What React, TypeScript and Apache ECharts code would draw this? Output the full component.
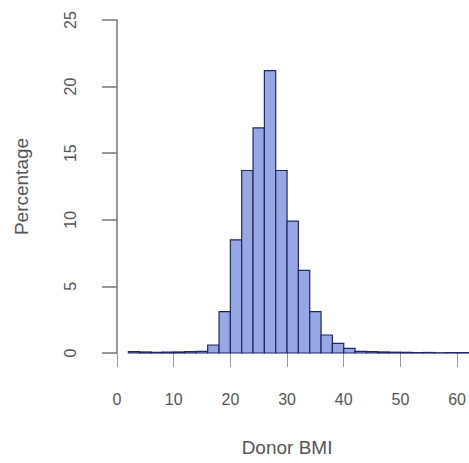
import React, { useEffect, useRef } from "react";
import * as echarts from "echarts";

const binStarts = [2, 4, 6, 8, 10, 12, 14, 16, 18, 20, 22, 24, 26, 28, 30, 32, 34, 36, 38, 40, 42, 44, 46, 48, 50, 52, 54, 56, 58, 60];
const binWidth = 2;
const percentages = [0.1, 0.08, 0.05, 0.07, 0.08, 0.1, 0.12, 0.6, 3.1, 8.5, 13.7, 16.9, 21.2, 13.7, 9.9, 6.2, 3.1, 1.35, 0.73, 0.35, 0.12, 0.1, 0.08, 0.06, 0.05, 0.03, 0.04, 0.02, 0.03, 0.03];
const xTicks = [0, 10, 20, 30, 40, 50, 60];
const yTicks = [0, 5, 10, 15, 20, 25];

export default function App() {
  const ref = useRef<HTMLDivElement>(null);
  useEffect(() => {
    if (!ref.current) return;
    const chart = echarts.init(ref.current, null, { renderer: "svg" });
    const data = binStarts.map((s, i) => [s, s + binWidth, percentages[i]]);
    const textColor = "#555";
    const font = "Liberation Sans, Arial, sans-serif";
    chart.setOption({
      animation: false,
      backgroundColor: "#fff",
      grid: { left: 117, top: 20, width: 341, height: 333 },
      xAxis: {
        type: "value",
        min: xTicks[0],
        max: xTicks[xTicks.length - 1],
        interval: 10,
        offset: 14,
        splitLine: { show: false },
        axisLine: { show: false },
        axisTick: { show: true, length: 14, lineStyle: { color: "#999", width: 1 } },
        axisLabel: { margin: 24, fontSize: 16, color: textColor, fontFamily: font },
        name: "Donor BMI",
        nameLocation: "middle",
        nameGap: 71,
        nameTextStyle: { fontSize: 19, color: textColor, fontFamily: font },
      },
      yAxis: {
        type: "value",
        min: yTicks[0],
        max: yTicks[yTicks.length - 1],
        interval: 5,
        offset: 12,
        splitLine: { show: false },
        axisLine: { show: true, lineStyle: { color: "#777", width: 1.5 } },
        axisTick: { show: true, length: 15, lineStyle: { color: "#777", width: 1.5 } },
        axisLabel: { margin: 27, fontSize: 16, color: textColor, fontFamily: font, rotate: 90 },
        name: "Percentage",
        nameLocation: "middle",
        nameGap: 74,
        nameTextStyle: { fontSize: 19, color: textColor, fontFamily: font },
      },
      series: [
        {
          type: "custom",
          clip: false,
          data,
          renderItem: (params: any, api: any) => {
            const x0 = api.value(0);
            const x1 = api.value(1);
            const v = api.value(2);
            const p0 = api.coord([x0, v]);
            const p1 = api.coord([x1, 0]);
            return {
              type: "rect",
              shape: { x: p0[0], y: p0[1], width: p1[0] - p0[0], height: p1[1] - p0[1] },
              style: { fill: "#97a6e4", stroke: "#22295e", lineWidth: 1.2 },
            };
          },
        },
      ],
    });
    return () => chart.dispose();
  }, []);
  return <div ref={ref} style={{ position: "fixed", left: 0, top: 0, width: 469, height: 463 }} />;
}
